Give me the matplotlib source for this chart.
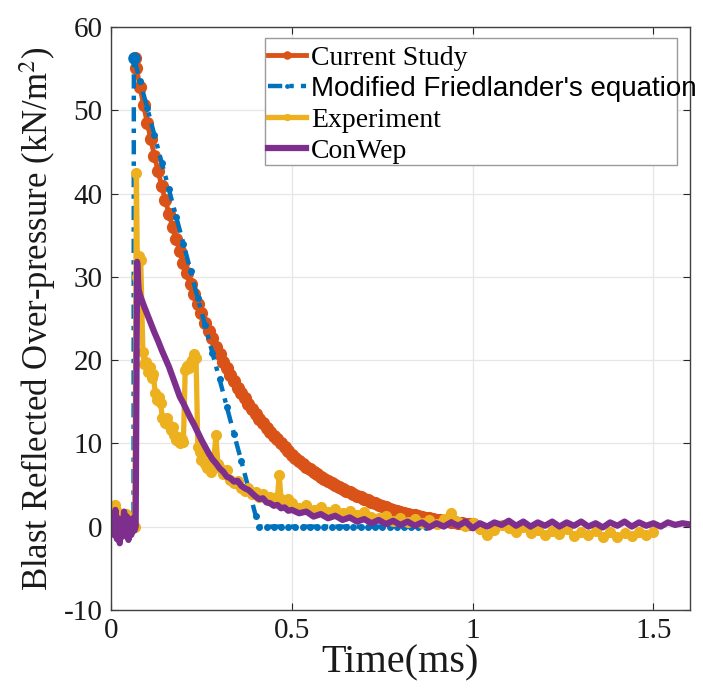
import matplotlib
matplotlib.use("Agg")
import matplotlib.pyplot as plt
from matplotlib.patches import Rectangle

# ---------------- data ----------------
cs_t = [0.065, 0.07, 0.08, 0.09, 0.10, 0.11, 0.12, 0.13, 0.14, 0.15, 0.16, 0.17, 0.18,
        0.19, 0.20, 0.21, 0.22, 0.23, 0.24, 0.25, 0.26, 0.27, 0.28, 0.29, 0.30, 0.31,
        0.32, 0.33, 0.34, 0.35, 0.36, 0.37, 0.38, 0.39, 0.40, 0.41, 0.42, 0.43, 0.44,
        0.45, 0.46, 0.47, 0.48, 0.49, 0.50, 0.51, 0.52, 0.53, 0.54, 0.55, 0.56, 0.57,
        0.58, 0.59, 0.60, 0.61, 0.62, 0.63, 0.64, 0.65, 0.66, 0.67, 0.68, 0.69, 0.70,
        0.71, 0.72, 0.73, 0.74, 0.75, 0.76, 0.77, 0.78, 0.79, 0.80, 0.81, 0.82, 0.83,
        0.84, 0.85, 0.86, 0.87, 0.88, 0.89, 0.90, 0.91, 0.92, 0.93, 0.94, 0.95, 0.96,
        0.97, 0.98, 0.99, 1.00]
cs_v = [56.3, 55.1, 52.8, 50.6, 48.5, 46.5, 44.5, 42.7, 40.9, 39.2, 37.6, 36.0, 34.5,
        33.1, 31.7, 30.4, 29.1, 27.9, 26.7, 25.6, 24.5, 23.5, 22.6, 21.6, 20.7, 19.8,
        19.0, 18.2, 17.5, 16.7, 16.0, 15.4, 14.7, 14.1, 13.5, 12.9, 12.4, 11.9, 11.4,
        10.9, 10.5, 10.0, 9.6, 9.1, 8.6, 8.25, 7.9, 7.55, 7.2, 6.9, 6.6, 6.3,
        6.0, 5.75, 5.5, 5.25, 5.0, 4.75, 4.5, 4.3, 4.1, 3.9, 3.7, 3.5, 3.3,
        3.15, 3.0, 2.8, 2.6, 2.45, 2.3, 2.15, 2.05, 1.9, 1.8, 1.65, 1.55, 1.45,
        1.35, 1.25, 1.15, 1.07, 1.0, 0.92, 0.85, 0.77, 0.7, 0.62, 0.55, 0.5, 0.45,
        0.4, 0.35, 0.3, 0.25]

mf_t = [0.0, 0.02, 0.04, 0.062, 0.063, 0.08, 0.10, 0.12, 0.14, 0.16, 0.18, 0.20, 0.22,
        0.24, 0.26, 0.28, 0.30, 0.32, 0.34, 0.36, 0.38, 0.40, 0.41, 0.43, 0.45, 0.47,
        0.49, 0.51, 0.53, 0.55, 0.57, 0.59, 0.61, 0.63, 0.65, 0.67, 0.69, 0.71, 0.73,
        0.75, 0.77, 0.79, 0.81, 0.83, 0.85, 0.87]
mf_v = [0.0, 0.0, 0.0, 0.0, 56.3, 53.5, 50.3, 47.0, 43.7, 40.5, 37.2, 34.0, 30.7,
        27.4, 24.2, 20.9, 17.7, 14.4, 11.1, 7.9, 4.6, 1.3, 0.0, 0.0, 0.0, 0.0,
        0.0, 0.0, 0.0, 0.0, 0.0, 0.0, 0.0, 0.0, 0.0, 0.0, 0.0, 0.0, 0.0,
        0.0, 0.0, 0.0, 0.0, 0.0, 0.0, 0.0]

ex_t = [0.000, 0.005, 0.010, 0.015, 0.020, 0.025, 0.030, 0.035, 0.040, 0.045, 0.050,
        0.055, 0.060, 0.066, 0.070, 0.073, 0.078, 0.082, 0.088, 0.092, 0.097, 0.102,
        0.107, 0.112, 0.117, 0.122, 0.127, 0.132, 0.137, 0.142, 0.150, 0.155, 0.160,
        0.165, 0.170, 0.175, 0.180, 0.185, 0.190, 0.195, 0.200, 0.205, 0.210, 0.215,
        0.220, 0.225, 0.230, 0.235, 0.240, 0.245, 0.250, 0.255, 0.260, 0.265, 0.270,
        0.275, 0.280, 0.285, 0.290, 0.295, 0.300, 0.310, 0.320, 0.330, 0.340, 0.350,
        0.360, 0.370, 0.380, 0.390, 0.400, 0.410, 0.420, 0.430, 0.440, 0.450, 0.460,
        0.465, 0.470, 0.480, 0.490, 0.50, 0.52, 0.54, 0.56, 0.58, 0.60, 0.62, 0.64,
        0.66, 0.68, 0.70, 0.72, 0.74, 0.76, 0.78, 0.80, 0.82, 0.84, 0.86, 0.88, 0.90,
        0.92, 0.94, 0.96, 0.98, 1.00, 1.02, 1.04, 1.06, 1.08, 1.10, 1.12, 1.14, 1.16,
        1.18, 1.20, 1.22, 1.24, 1.26, 1.28, 1.30, 1.32, 1.34, 1.36, 1.38, 1.40, 1.42,
        1.44, 1.46, 1.48, 1.50]
ex_v = [0.0, 1.0, 2.6, 2.0, 1.2, 0.3, -0.5, 0.5, 1.5, 0.5, -0.3,
        0.8, 0.2, 0.0, 42.5, 30.0, 32.5, 32.0, 21.0, 19.5, 19.8, 18.6,
        19.2, 17.8, 18.3, 16.0, 15.2, 15.6, 14.8, 13.0, 12.5, 13.1, 12.2,
        11.6, 12.0, 11.0, 10.4, 10.8, 10.0, 10.5, 10.2, 18.8, 19.3, 19.0,
        19.8, 20.0, 20.7, 20.3, 9.5, 9.0, 8.0, 8.8, 7.5, 7.0, 7.8,
        6.5, 7.2, 8.5, 11.0, 7.5, 7.0, 6.3, 6.8, 5.6, 5.2, 5.5,
        4.6, 4.3, 4.6, 3.9, 4.2, 3.6, 3.9, 3.4, 3.6, 3.2, 3.5,
        6.2, 3.3, 3.0, 3.3, 2.8, 2.2, 2.6, 2.0, 2.4, 1.8, 2.1, 1.6,
        1.9, 1.4, 1.7, 1.2, 1.0, 1.3, 0.7, 1.0, 0.5, 0.9, 0.4, 0.8, 0.3,
        0.9, 1.6, 0.6, 0.1, 0.4, -0.3, -1.0, -0.4, 0.2, -0.2, -0.6, 0.0, -0.8,
        -0.4, -1.0, -0.5, -0.9, -0.3, -1.1, -0.6, -1.0, -0.5, -1.2, -0.7, -1.3, -0.8,
        -1.1, -0.6, -1.0, -0.7]

cw_t = [0.000, 0.004, 0.008, 0.012, 0.016, 0.020, 0.024, 0.028, 0.032, 0.036, 0.040,
        0.044, 0.048, 0.052, 0.056, 0.060, 0.064, 0.068, 0.072, 0.076, 0.080, 0.090,
        0.100, 0.110, 0.120, 0.130, 0.140, 0.150, 0.160, 0.170, 0.180, 0.190, 0.200,
        0.210, 0.220, 0.230, 0.240, 0.250, 0.260, 0.270, 0.280, 0.290, 0.300, 0.310,
        0.32, 0.33, 0.34, 0.35, 0.36, 0.37, 0.38, 0.39, 0.40, 0.41, 0.42, 0.43, 0.44,
        0.45, 0.46, 0.47, 0.48, 0.49, 0.50, 0.52, 0.54, 0.56, 0.58, 0.60, 0.62, 0.64,
        0.66, 0.68, 0.70, 0.72, 0.74, 0.76, 0.78, 0.80, 0.82, 0.84, 0.86, 0.88, 0.90,
        0.92, 0.94, 0.96, 0.98, 1.00, 1.02, 1.04, 1.06, 1.08, 1.10, 1.12, 1.14, 1.16,
        1.18, 1.20, 1.22, 1.24, 1.26, 1.28, 1.30, 1.32, 1.34, 1.36, 1.38, 1.40, 1.42,
        1.44, 1.46, 1.48, 1.50, 1.52, 1.54, 1.56, 1.58, 1.595]
cw_v = [0.0, 1.5, -1.0, 2.0, -1.5, 1.0, -2.0, 0.5, -1.2, 1.8, -0.8,
        1.2, -1.6, 0.8, -1.0, 1.0, -0.5, 0.0, 31.8, 28.5, 27.8, 26.6,
        25.5, 24.4, 23.3, 22.3, 21.2, 20.2, 19.2, 18.0, 16.8, 15.6, 14.8,
        13.9, 13.0, 12.2, 11.3, 10.4, 9.6, 8.8, 8.1, 7.6, 7.0, 6.6,
        6.0, 5.8, 5.4, 5.5, 4.9, 4.6, 4.4, 4.0, 3.6, 3.3, 3.4, 2.9, 2.8,
        2.5, 2.6, 2.2, 2.3, 1.9, 2.0, 1.6, 1.8, 1.2, 1.5, 1.0, 1.3, 0.8,
        1.1, 0.6, 0.9, 0.4, 0.8, 0.3, 0.7, 0.2, 0.6, 0.1, 0.5, -0.1, 0.4,
        0.0, 0.5, 0.1, 0.6, -0.2, 0.4, 0.0, 0.5, 0.2, 0.7, 0.1, 0.6, 0.0,
        0.5, 0.1, 0.6, 0.0, 0.5, 0.1, 0.6, 0.0, 0.4, -0.1, 0.5, 0.1, 0.6,
        0.0, 0.5, 0.1, 0.4, 0.0, 0.5, 0.2, 0.4, 0.3]

labels = ["Current Study", "Modified Friedlander's equation", "Experiment", "ConWep"]
x_ticks = [0, 0.5, 1, 1.5]
x_ticklabels = ["0", "0.5", "1", "1.5"]
y_ticks = [-10, 0, 10, 20, 30, 40, 50, 60]

# ---------------- style ----------------
plt.rcParams["font.family"] = ["Liberation Serif", "DejaVu Serif"]
plt.rcParams["mathtext.fontset"] = "stix"
plt.rcParams["axes.unicode_minus"] = False

c_blue, c_orange, c_yellow, c_purple = "#0072BD", "#D95319", "#EDB120", "#7E2F8E"

fig = plt.figure(figsize=(7.03, 6.93), dpi=100)
ax = fig.add_axes([0.158, 0.120, 0.823, 0.841])

l1, = ax.plot(cs_t, cs_v, "-", color=c_orange, lw=3.5, marker="o", ms=8.5,
              mec=c_orange, label=labels[0])
l2, = ax.plot(mf_t, mf_v, color=c_blue, lw=3.2, ls=(0, (3.2, 1.6, 1.0, 1.6)),
              marker="o", ms=4, mec=c_blue, label=labels[1])
l3, = ax.plot(ex_t, ex_v, "-", color=c_yellow, lw=3.8, marker="o", ms=7,
              mec=c_yellow, label=labels[2])
l4, = ax.plot(cw_t, cw_v, "-", color=c_purple, lw=4.5, label=labels[3])
# bigger dot at blue peak as in the reference
ax.plot([mf_t[4]], [mf_v[4]], "o", color=c_blue, ms=8)

ax.set_xlim(0, 1.6)
ax.set_ylim(-10, 60)
ax.set_xticks(x_ticks)
ax.set_xticklabels(x_ticklabels)
ax.set_yticks(y_ticks)
ax.grid(True, color="#e6e6e6", lw=0.9)
ax.set_axisbelow(True)
ax.tick_params(direction="in", length=5, width=0.8, top=True, right=True,
               labelsize=21, pad=6, colors="#262626", labelcolor="#1a1a1a")
for s in ax.spines.values():
    s.set_color("#404040")
    s.set_linewidth(1.0)

ax.set_xlabel("Time(ms)", fontsize=29, labelpad=0, color="#1a1a1a")
ax.set_ylabel(r"Blast Reflected Over-pressure (kN/m$^2$)", fontsize=25,
              labelpad=4, color="#1a1a1a")

# legend box (drawn separately so the long label can overflow like the reference)
rect = Rectangle((0.266, 0.763), 0.713, 0.218, transform=ax.transAxes,
                 facecolor="white", edgecolor="#9a9a9a", lw=1.0, zorder=5)
ax.add_patch(rect)
leg = ax.legend(handles=[l1, l2, l3, l4], loc="upper left",
                bbox_to_anchor=(0.262, 0.978), frameon=False, fontsize=20,
                handlelength=1.35, handletextpad=0.2, labelspacing=0.19,
                borderpad=0.2, borderaxespad=0, markerscale=0.6)
leg.set_zorder(6)
leg.get_texts()[1].set_fontfamily(["Liberation Sans", "DejaVu Sans"])

fig.savefig("out.png", dpi=100)
